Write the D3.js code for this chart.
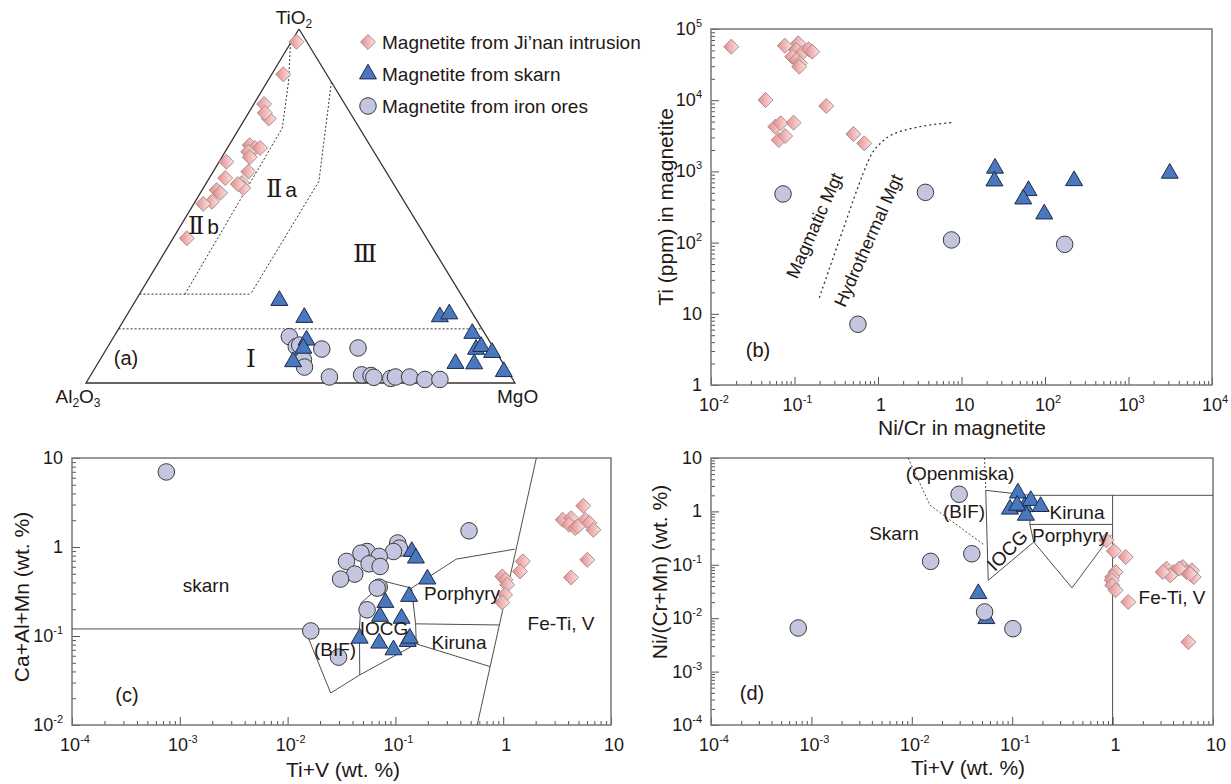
<!DOCTYPE html>
<html>
<head>
<meta charset="utf-8">
<script src="https://cdn.jsdelivr.net/npm/d3@7/dist/d3.min.js"></script>
<style>
  body { margin: 0; background: #fff; }
  svg { display: block; }
  text { font-family: "Liberation Sans", Arial, sans-serif; fill: #231815; }
</style>
</head>
<body>
<svg id="fig" width="1231" height="784"></svg>
<script>
// ---------- (a) ternary, points as [TiO2, Al2O3, MgO] in % ----------
const ternJinan = [
  [96.4, 2.4, 1.2], [87.2, 10.1, 2.7], [78.8, 18.8, 2.4], [74.7, 19.8, 5.5], [76.3, 19.9, 3.8],
  [67.2, 28.0, 4.8], [66.4, 27.2, 6.4], [66.4, 26.0, 7.6], [65.3, 29.3, 5.4], [63.8, 29.7, 6.5],
  [62.5, 35.8, 1.7], [59.7, 32.1, 8.2], [57.9, 38.4, 3.7], [56.5, 35.2, 8.3], [55.1, 35.6, 9.3],
  [56.2, 36.3, 7.5], [54.5, 42.1, 3.4], [53.7, 41.7, 4.6], [51.2, 44.9, 3.9], [50.6, 47.2, 2.2],
  [40.9, 55.9, 3.2]
];
const ternSkarn = [
  [23.3, 43.2, 33.5], [18.5, 39.8, 41.7], [12.1, 42.5, 45.4], [9.8, 44.4, 45.8], [6.0, 48.7, 45.3],
  [18.7, 8.1, 73.2], [19.5, 5.5, 75.0], [14.0, 2.9, 83.1], [9.5, 4.3, 86.2], [10.3, 2.7, 87.0],
  [8.6, 1.0, 90.4], [5.5, 11.1, 83.4], [5.4, 6.8, 87.8], [3.2, 1.0, 95.8]
];
const ternOre = [
  [13.1, 46.0, 40.9], [10.3, 45.8, 43.9], [10.7, 44.8, 44.5], [9.6, 40.2, 50.2], [6.6, 46.0, 47.4],
  [4.5, 46.8, 48.7], [9.9, 31.6, 58.5], [1.7, 42.4, 55.9], [2.3, 34.6, 63.1], [2.1, 32.5, 65.4],
  [1.6, 32.1, 66.3], [1.3, 28.3, 70.4], [1.7, 27.0, 71.3], [1.7, 23.7, 74.6], [1.0, 20.5, 78.5],
  [1.0, 17.0, 82.0]
];
const ternFrame = [[100, 0, 0], [0, 100, 0], [0, 0, 100], [100, 0, 0]];
const ternFieldI = [[15.3, 84.7, 0], [15.3, 0, 84.7]];
const ternFieldII = [[25.1, 74.9, 0], [25.1, 49.0, 25.9]];
const ternFieldIIb = [[96, 4, 0], [85, 10, 5], [72, 18, 10], [25.1, 64.3, 10.6]];
const ternFieldIIa = [[85, 0, 15], [57, 17, 26], [25.1, 49.0, 25.9]];

// ---------- (b) Ni/Cr vs Ti (ppm) ----------
const niCrJinan = [
  [0.0175, 56400], [0.0766, 58200], [0.111, 63000], [0.105, 50700], [0.122, 45600],
  [0.148, 51900], [0.163, 48000], [0.0939, 40800], [0.105, 36700], [0.116, 33000],
  [0.114, 29600], [0.045, 10070], [0.240, 8290], [0.0589, 4240], [0.0682, 4740],
  [0.0649, 2760], [0.0773, 3140], [0.0975, 4830], [0.507, 3350], [0.684, 2480]
];
const niCrSkarn = [[25.2, 1107], [24.8, 733], [63.4, 536], [54.8, 409], [98, 252], [223, 740], [3120, 940]];
const niCrOre = [[0.0729, 482], [3.70, 508], [7.59, 109], [172, 94.6], [0.575, 7.13]];
const magmaticLine = [[0.198, 16.8], [0.379, 150], [0.665, 940], [0.85, 1795], [1.02, 2350], [1.445, 3245], [3.14, 4245], [8.11, 4890]];

// ---------- (c) Ti+V vs Ca+Al+Mn (wt.%) ----------
const caJinan = [
  [5.53, 2.91], [3.57, 2.02], [4.26, 2.11], [4.07, 1.78], [4.64, 1.63], [5.78, 2.02],
  [6.3, 1.86], [6.87, 1.56], [4.9, 1.7], [6.03, 0.718], [4.26, 0.455], [1.52, 0.689],
  [1.43, 0.531], [0.98, 0.467], [1.05, 0.428], [1.09, 0.377], [1.04, 0.29], [0.98, 0.238]
];
const caSkarn = [
  [0.142, 0.89], [0.155, 0.75], [0.198, 0.436], [0.134, 0.278], [0.0807, 0.238], [0.072, 0.166],
  [0.114, 0.158], [0.0466, 0.0944], [0.0708, 0.083], [0.096, 0.0698], [0.130, 0.0867], [0.136, 0.0944]
];
const caOre = [
  [0.00075, 6.97], [0.482, 1.52], [0.105, 1.11], [0.109, 0.97], [0.096, 0.89], [0.0546, 0.89],
  [0.0479, 0.853], [0.0708, 0.784], [0.0352, 0.689], [0.057, 0.647], [0.0722, 0.604], [0.042, 0.496],
  [0.031, 0.436], [0.0708, 0.354], [0.0678, 0.345], [0.0546, 0.197], [0.0164, 0.114], [0.0297, 0.0578]
];
const caFields = [
  [[2.03, 10], [0.574, 0.01]],
  [[1e-4, 0.12], [0.0464, 0.12]],
  [[0.0144, 0.12], [0.0251, 0.0229], [0.0467, 0.0365], [0.156, 0.0815], [0.757, 0.0453]],
  [[0.0464, 0.12], [0.0467, 0.0365]],
  [[0.0464, 0.12], [0.0479, 0.234], [0.0807, 0.409], [0.141, 0.345], [0.154, 0.137], [0.156, 0.0815]],
  [[0.154, 0.137], [0.923, 0.133]],
  [[0.141, 0.345], [0.367, 0.731], [1.28, 0.946]]
];

// ---------- (d) Ti+V vs Ni/(Cr+Mn) ----------
const niJinan = [
  [0.867, 0.287], [1.03, 0.181], [1.35, 0.14], [1.07, 0.0733], [0.99, 0.059], [0.98, 0.0513],
  [0.99, 0.0413], [1.07, 0.0333], [1.43, 0.0201], [5.68, 0.00358], [3.44, 0.0847], [4.06, 0.0733],
  [3.74, 0.0635], [5.0, 0.091], [5.44, 0.0733], [6.17, 0.0787], [6.43, 0.059], [3.16, 0.0733],
  [4.6, 0.085], [5.9, 0.068]
];
const niSkarn = [[0.046, 0.0288], [0.0553, 0.0098], [0.114, 2.2], [0.095, 1.1], [0.133, 1.22], [0.153, 1.6], [0.137, 0.845], [0.192, 1.23], [0.112, 1.3]];
const niOre = [[0.00074, 0.00656], [0.0154, 0.116], [0.0396, 0.161], [0.0296, 2.09], [0.0531, 0.0131], [0.1016, 0.00637]];
const niFieldsSolid = [
  [[0.0545, 2.48], [0.15, 2.0]],
  [[0.0545, 2.48], [0.0577, 0.0512], [0.164, 0.267], [0.15, 0.57], [0.15, 2.0]],
  [[0.15, 2.0], [10, 2.0]],
  [[1, 2.0], [1, 1e-4]],
  [[0.15, 0.57], [1, 0.57]],
  [[0.164, 0.267], [0.394, 0.037], [0.97, 0.36]]
];
const niFieldsDotted = [
  [[0.0092, 10], [0.0152, 1.3], [0.0531, 0.232]],
  [[0.053, 10], [0.0545, 2.48]]
];

// ---------- setup ----------
const svg = d3.select("#fig");
const grad = svg.append("defs").append("linearGradient")
  .attr("id", "pink").attr("x1", 0).attr("y1", 0).attr("x2", 1).attr("y2", 0);
grad.append("stop").attr("offset", 0).attr("stop-color", "#e68b8b");
grad.append("stop").attr("offset", 1).attr("stop-color", "#fce3e3");

// square standing on its corner
const symbolDiamondSquare = {
  draw(ctx, size) {
    const r = Math.sqrt(size / 2);
    ctx.moveTo(0, -r); ctx.lineTo(r, 0); ctx.lineTo(0, r); ctx.lineTo(-r, 0); ctx.closePath();
  }
};

const styles = {
  jinan: { type: symbolDiamondSquare, size: 112, fill: "url(#pink)", stroke: "#a68e8e" },
  skarn: { type: d3.symbolTriangle, size: 125, fill: "#4a78c0", stroke: "#1d2a46" },
  ore: { type: d3.symbolCircle, size: 215, fill: "#c4c5de", stroke: "#3a3a3a" }
};

function drawPoints(g, data, kind, px, py) {
  const s = styles[kind];
  g.append("g").selectAll("path").data(data).join("path")
    .attr("d", d3.symbol(s.type, s.size))
    .attr("transform", d => `translate(${px(d)},${py(d)})`)
    .attr("fill", s.fill)
    .attr("stroke", s.stroke)
    .attr("stroke-width", 1);
}

function label(g, txt, x, y, size, opts = {}) {
  const t = g.append("text").attr("x", x).attr("y", y).attr("font-size", size)
    .attr("text-anchor", opts.anchor || "middle").text(txt);
  if (opts.rotate) t.attr("transform", `rotate(${opts.rotate},${x},${y})`);
  return t;
}

// ---------- (a) ternary ----------
const vA = { x: 86, y: 383 }, vM = { x: 515, y: 383 }, vT = { x: 299, y: 29 };
const tiY = d3.scaleLinear().domain([0, 100]).range([vA.y, vT.y]);
const tiX = d3.scaleLinear().domain([0, 100]).range([0, vT.x - vA.x]);
const mgX = d3.scaleLinear().domain([0, 100]).range([0, vM.x - vA.x]);
const norm = d => { const s = d[0] + d[1] + d[2]; return d.map(v => v * 100 / s); };
const tx = d => { const n = norm(d); return vA.x + tiX(n[0]) + mgX(n[2]); };
const ty = d => tiY(norm(d)[0]);
const ternLine = d3.line().x(tx).y(ty);

const ga = svg.append("g");
ga.append("path").attr("d", ternLine(ternFrame)).attr("fill", "none").attr("stroke", "#3b3030").attr("stroke-width", 1.3);
[ternFieldI, ternFieldII, ternFieldIIb, ternFieldIIa].forEach(f =>
  ga.append("path").attr("d", ternLine(f)).attr("fill", "none")
    .attr("stroke", "#3b3030").attr("stroke-width", 1).attr("stroke-dasharray", "2,2"));
drawPoints(ga, ternJinan, "jinan", tx, ty);
drawPoints(ga, ternOre, "ore", tx, ty);
drawPoints(ga, ternSkarn, "skarn", tx, ty);

const tiLab = label(ga, "TiO", 294, 24, 19);
tiLab.append("tspan").attr("font-size", 12).attr("dy", 4).text("2");
const alLab = label(ga, "Al", 78, 403, 19);
alLab.append("tspan").attr("font-size", 12).attr("dy", 4).text("2");
alLab.append("tspan").attr("dy", -4).text("O");
alLab.append("tspan").attr("font-size", 12).attr("dy", 4).text("3");
label(ga, "MgO", 497, 403, 19, { anchor: "start" });
label(ga, "(a)", 126, 365, 20);

const roman = "'DejaVu Serif', 'Liberation Serif', serif";
label(ga, "Ⅲ", 365, 262, 25).style("font-family", roman);
label(ga, "Ⅰ", 251, 367, 25).style("font-family", roman);
const r2a = ga.append("text").attr("x", 266).attr("y", 197).attr("font-size", 21);
r2a.append("tspan").style("font-family", roman).attr("font-size", 24).text("Ⅱ");
r2a.append("tspan").attr("dx", 3).text("a");
const r2b = ga.append("text").attr("x", 188).attr("y", 234).attr("font-size", 21);
r2b.append("tspan").style("font-family", roman).attr("font-size", 24).text("Ⅱ");
r2b.append("tspan").attr("dx", 3).text("b");

// legend
const legend = [
  { kind: "jinan", text: "Magnetite from Ji\u2019nan intrusion" },
  { kind: "skarn", text: "Magnetite from skarn" },
  { kind: "ore", text: "Magnetite from iron ores" }
];
const legY = d3.scalePoint().domain(legend.map(d => d.kind)).range([42, 106]);
legend.forEach(d => {
  drawPoints(ga, [d], d.kind, () => 368, () => legY(d.kind));
  label(ga, d.text, 382, legY(d.kind) + 7, 19, { anchor: "start" });
});

// ---------- log panels ----------
function majorTicks([a, b]) {
  const out = [];
  for (let e = Math.round(Math.log10(a)); e <= Math.round(Math.log10(b)); e++) out.push(Math.pow(10, e));
  return out;
}
function minorTicks([a, b]) {
  const out = [];
  for (let e = Math.round(Math.log10(a)); e < Math.round(Math.log10(b)); e++)
    for (let k = 2; k < 10; k++) out.push(k * Math.pow(10, e));
  return out;
}
function powLabel(g, v, x, y, anchor) {
  const e = Math.round(Math.log10(v));
  const t = g.append("text").attr("x", x).attr("y", y).attr("text-anchor", anchor).attr("font-size", 18);
  if (e === 0) t.text("1");
  else if (e === 1) t.text("10");
  else {
    t.append("tspan").text("10");
    t.append("tspan").attr("dy", -8).attr("font-size", 11).text(e);
  }
}

function logPanel(p) {
  const x = d3.scaleLog().domain(p.xDomain).range([p.left, p.right]);
  const y = d3.scaleLog().domain(p.yDomain).range([p.bottom, p.top]);
  const g = svg.append("g");
  const tickStyle = a => {
    a.select(".domain").remove();
    a.selectAll("line").attr("stroke", "#555").attr("stroke-width", 1);
  };
  g.append("g").attr("transform", `translate(0,${p.bottom})`)
    .call(d3.axisBottom(x).tickValues(minorTicks(p.xDomain)).tickSize(-4).tickFormat("")).call(tickStyle);
  g.append("g").attr("transform", `translate(0,${p.bottom})`)
    .call(d3.axisBottom(x).tickValues(majorTicks(p.xDomain)).tickSize(-8).tickFormat("")).call(tickStyle);
  g.append("g").attr("transform", `translate(${p.left},0)`)
    .call(d3.axisLeft(y).tickValues(minorTicks(p.yDomain)).tickSize(-4).tickFormat("")).call(tickStyle);
  g.append("g").attr("transform", `translate(${p.left},0)`)
    .call(d3.axisLeft(y).tickValues(majorTicks(p.yDomain)).tickSize(-8).tickFormat("")).call(tickStyle);
  g.append("rect")
    .attr("x", p.left).attr("y", p.top)
    .attr("width", p.right - p.left).attr("height", p.bottom - p.top)
    .attr("fill", "none").attr("stroke", "#777").attr("stroke-width", 1.5);
  majorTicks(p.xDomain).forEach(v => powLabel(g, v, x(v) + 3, p.bottom + 26, "middle"));
  majorTicks(p.yDomain).forEach(v => powLabel(g, v, p.left - 9, y(v) + 6, "end"));
  const line = d3.line().x(d => x(d[0])).y(d => y(d[1]));
  return { g, x, y, line, px: d => x(d[0]), py: d => y(d[1]) };
}

// ---------- (b) ----------
const pb = logPanel({ left: 711, right: 1212, top: 29, bottom: 385, xDomain: [1e-2, 1e4], yDomain: [1, 1e5] });
const curved = d3.line().x(pb.px).y(pb.py).curve(d3.curveCatmullRom);
pb.g.append("path").attr("d", curved(magmaticLine))
  .attr("fill", "none").attr("stroke", "#333").attr("stroke-width", 1.3).attr("stroke-dasharray", "2,3");
drawPoints(pb.g, niCrOre, "ore", pb.px, pb.py);
drawPoints(pb.g, niCrSkarn, "skarn", pb.px, pb.py);
drawPoints(pb.g, niCrJinan, "jinan", pb.px, pb.py);
label(pb.g, "Magmatic Mgt", 820, 228, 18, { rotate: -66 });
label(pb.g, "Hydrothermal Mgt", 874, 243, 18, { rotate: -66 });
label(pb.g, "(b)", 758, 357, 20);
label(pb.g, "Ti (ppm) in magnetite", 673, 207, 21, { rotate: -90 });
label(pb.g, "Ni/Cr in magnetite", 962, 435, 21);

// ---------- (c) ----------
const pc = logPanel({ left: 72, right: 611, top: 458, bottom: 725, xDomain: [1e-4, 10], yDomain: [1e-2, 10] });
caFields.forEach(f => pc.g.append("path").attr("d", pc.line(f))
  .attr("fill", "none").attr("stroke", "#3a3a3a").attr("stroke-width", 0.9));
drawPoints(pc.g, caJinan, "jinan", pc.px, pc.py);
drawPoints(pc.g, caOre, "ore", pc.px, pc.py);
drawPoints(pc.g, caSkarn, "skarn", pc.px, pc.py);
label(pc.g, "skarn", 206, 592, 19);
label(pc.g, "Porphyry", 462, 600, 19);
label(pc.g, "IOCG", 384, 635, 19);
label(pc.g, "Kiruna", 459, 649, 19);
label(pc.g, "(BIF)", 335, 656, 19);
label(pc.g, "Fe-Ti, V", 561, 630, 19);
label(pc.g, "(c)", 127, 702, 20);
label(pc.g, "Ca+Al+Mn (wt. %)", 29, 597, 21, { rotate: -90 });
label(pc.g, "Ti+V (wt. %)", 343, 777, 21);

// ---------- (d) ----------
const pd = logPanel({ left: 711, right: 1213, top: 458, bottom: 725, xDomain: [1e-4, 10], yDomain: [1e-4, 10] });
niFieldsSolid.forEach(f => pd.g.append("path").attr("d", pd.line(f))
  .attr("fill", "none").attr("stroke", "#3a3a3a").attr("stroke-width", 0.9));
niFieldsDotted.forEach(f => pd.g.append("path").attr("d", pd.line(f))
  .attr("fill", "none").attr("stroke", "#3a3a3a").attr("stroke-width", 0.9).attr("stroke-dasharray", "2,2"));
drawPoints(pd.g, niJinan, "jinan", pd.px, pd.py);
drawPoints(pd.g, niSkarn, "skarn", pd.px, pd.py);
drawPoints(pd.g, niOre, "ore", pd.px, pd.py);
label(pd.g, "(Openmiska)", 960, 480, 19);
label(pd.g, "(BIF)", 964, 518, 19);
label(pd.g, "Skarn", 894, 540, 19);
label(pd.g, "Kiruna", 1077, 519, 19);
label(pd.g, "Porphyry", 1070, 542, 19);
label(pd.g, "IOCG", 1012, 555, 19, { rotate: -45 });
label(pd.g, "Fe-Ti, V", 1172, 604, 19);
label(pd.g, "(d)", 752, 700, 20);
label(pd.g, "Ni/(Cr+Mn) (wt. %)", 667, 572, 21, { rotate: -90 });
label(pd.g, "Ti+V (wt. %)", 968, 775, 21);
</script>
</body>
</html>
